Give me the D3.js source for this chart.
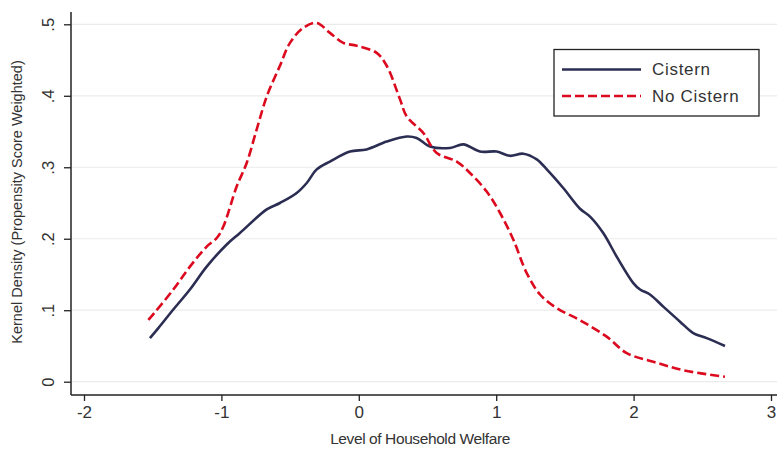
<!DOCTYPE html>
<html>
<head>
<meta charset="utf-8">
<script src="https://cdn.jsdelivr.net/npm/d3@7"></script>
<style>
  html, body { margin: 0; padding: 0; background: #fff; }
  svg { display: block; font-family: "Liberation Sans", Arial, sans-serif; }
</style>
</head>
<body>
<svg id="chart" width="777" height="450"></svg>
<script>
// ---- Data ----
const xTicks = [-2, -1, 0, 1, 2, 3];
const yTicks = [0, 0.1, 0.2, 0.3, 0.4, 0.5];
const yTickLabels = ["0", ".1", ".2", ".3", ".4", ".5"];
const seriesNames = ["Cistern", "No Cistern"];

const cisternX = [-1.520, -1.459, -1.350, -1.229, -1.107, -0.961, -0.865, -0.670, -0.574, -0.452, -0.379, -0.306, -0.210, -0.064, 0.057, 0.203, 0.349, 0.421, 0.518, 0.664, 0.761, 0.882, 1.004, 1.100, 1.197, 1.295, 1.368, 1.488, 1.610, 1.683, 1.779, 1.877, 1.998, 2.047, 2.119, 2.216, 2.338, 2.434, 2.532, 2.665];
const cisternY = [0.061, 0.075, 0.101, 0.129, 0.161, 0.192, 0.208, 0.241, 0.250, 0.264, 0.278, 0.297, 0.308, 0.322, 0.325, 0.336, 0.343, 0.341, 0.329, 0.327, 0.332, 0.322, 0.322, 0.316, 0.319, 0.311, 0.297, 0.271, 0.242, 0.231, 0.208, 0.175, 0.138, 0.129, 0.122, 0.105, 0.084, 0.068, 0.061, 0.050];

const noCisternX = [-1.532, -1.520, -1.350, -1.229, -1.107, -1.034, -0.986, -0.889, -0.816, -0.743, -0.670, -0.574, -0.501, -0.404, -0.306, -0.210, -0.113, -0.015, 0.130, 0.203, 0.300, 0.349, 0.469, 0.567, 0.713, 0.809, 0.931, 1.028, 1.124, 1.222, 1.319, 1.440, 1.610, 1.804, 1.950, 2.143, 2.362, 2.665];
const noCisternY = [0.0865, 0.0889, 0.129, 0.161, 0.189, 0.201, 0.217, 0.273, 0.306, 0.353, 0.399, 0.442, 0.474, 0.495, 0.502, 0.488, 0.474, 0.470, 0.460, 0.442, 0.395, 0.371, 0.348, 0.320, 0.308, 0.292, 0.266, 0.236, 0.199, 0.152, 0.122, 0.103, 0.086, 0.063, 0.040, 0.028, 0.016, 0.007];

// ---- Layout ----
const axisX = 71, axisY = 395, plotRight = 777, plotTop = 12;
const svg = d3.select("#chart");

const x = d3.scaleLinear().domain([-2, 3]).range([84, 771]);
const y = d3.scaleLinear().domain([0, 0.5]).range([381.7, 24.3]);

const textColor = "#333";
const font = "'Liberation Sans', Arial, sans-serif";

// gridlines
svg.append("g")
  .selectAll("line")
  .data(yTicks)
  .join("line")
  .attr("x1", axisX + 1).attr("x2", plotRight)
  .attr("y1", d => y(d)).attr("y2", d => y(d))
  .attr("stroke", "#ebebeb").attr("stroke-width", 1.2);

// curves
const line = d3.line().x(d => x(d[0])).y(d => y(d[1])).curve(d3.curveCatmullRom.alpha(0.5));
const cistern = cisternX.map((v, i) => [v, cisternY[i]]);
const noCistern = noCisternX.map((v, i) => [v, noCisternY[i]]);

const colCistern = "#2b2e52";
const colNo = "#dc0a1e";

svg.append("path").datum(cistern)
  .attr("d", line).attr("fill", "none")
  .attr("stroke", colCistern).attr("stroke-width", 2.6)
  .attr("stroke-linejoin", "round");

svg.append("path").datum(noCistern)
  .attr("d", line).attr("fill", "none")
  .attr("stroke", colNo).attr("stroke-width", 2.6)
  .attr("stroke-dasharray", "9,4");

// Y axis
const yAxis = d3.axisLeft(y).tickValues(yTicks).tickFormat((d, i) => yTickLabels[i]).tickSize(7).tickSizeOuter(0);
const gy = svg.append("g").attr("transform", `translate(${axisX},0)`).call(yAxis);
gy.select(".domain").remove();
gy.selectAll(".tick line").attr("stroke", "#222").attr("stroke-width", 1.3);
gy.selectAll(".tick text")
  .attr("x", null).attr("dy", null)
  .attr("transform", "translate(-23,0) rotate(-90)")
  .attr("text-anchor", "middle").attr("dy", "0.35em")
  .attr("font-size", 16.5).attr("fill", textColor)
  .attr("font-family", font);

// X axis
const xAxis = d3.axisBottom(x).tickValues(xTicks).tickFormat(d3.format("d")).tickSize(6).tickSizeOuter(0);
const gx = svg.append("g").attr("transform", `translate(0,${axisY})`).call(xAxis);
gx.select(".domain").remove();
gx.selectAll(".tick line").attr("stroke", "#222").attr("stroke-width", 1.3);
gx.selectAll(".tick text")
  .attr("y", 11).attr("dy", "0.71em")
  .attr("font-size", 17).attr("fill", textColor)
  .attr("font-family", font)
  .text(d => d < 0 ? "-" + Math.abs(d) : d);

// axis lines
svg.append("line").attr("x1", axisX).attr("x2", axisX).attr("y1", plotTop).attr("y2", axisY)
  .attr("stroke", "#222").attr("stroke-width", 1.5);
svg.append("line").attr("x1", axisX).attr("x2", plotRight).attr("y1", axisY).attr("y2", axisY)
  .attr("stroke", "#222").attr("stroke-width", 1.5);

// axis titles
svg.append("text")
  .attr("x", 420).attr("y", 444)
  .attr("text-anchor", "middle")
  .attr("font-size", 15.5).attr("fill", textColor)
  .attr("letter-spacing", "-0.4px")
  .attr("font-family", font)
  .text("Level of Household Welfare");

svg.append("text")
  .attr("transform", "translate(22,202) rotate(-90)")
  .attr("text-anchor", "middle")
  .attr("font-size", 14.5).attr("fill", textColor)
  .attr("font-family", font)
  .text("Kernel Density (Propensity Score Weighted)");

// legend
const lg = svg.append("g");
lg.append("rect").attr("x", 554).attr("y", 49.5).attr("width", 205).attr("height", 66.5)
  .attr("fill", "#fff").attr("stroke", "#222").attr("stroke-width", 1.3);
const legendRows = [
  { name: seriesNames[0], color: colCistern, dash: null, yy: 69.5 },
  { name: seriesNames[1], color: colNo, dash: "9,4", yy: 96 }
];
legendRows.forEach(r => {
  lg.append("line").attr("x1", 562).attr("x2", 641).attr("y1", r.yy).attr("y2", r.yy)
    .attr("stroke", r.color).attr("stroke-width", 2.6)
    .attr("stroke-dasharray", r.dash);
  lg.append("text").attr("x", 652).attr("y", r.yy).attr("dy", "0.35em")
    .attr("font-size", 17).attr("fill", textColor)
    .attr("letter-spacing", "0.7px")
    .attr("font-family", font)
    .text(r.name);
});
</script>
</body>
</html>
